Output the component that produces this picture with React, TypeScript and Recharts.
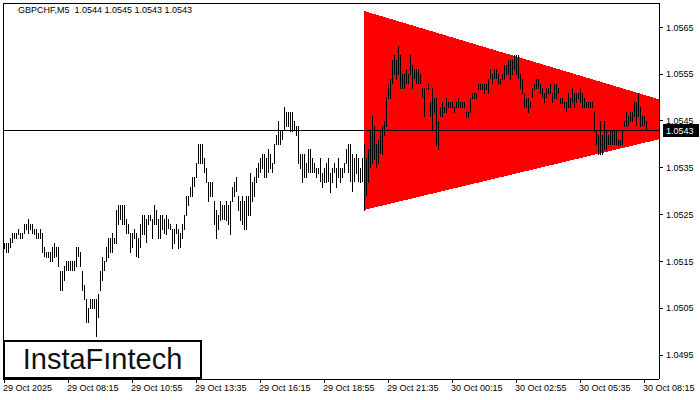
import { ComposedChart, Bar, Area, XAxis, YAxis, CartesianGrid, ReferenceLine } from 'recharts';

const SYMBOL = 'GBPCHF,M5';
const LAST_OHLC = [1.0544, 1.0545, 1.0543, 1.0543];
const CURRENT_PRICE = 1.0543;

// M5 bars, high / low
const HIGH = [
  1.0519, 1.0519, 1.0519, 1.0520, 1.0521, 1.0521, 1.0521, 1.0522, 1.0521, 1.0521,
  1.0523, 1.0523, 1.0524, 1.0523, 1.0523, 1.0522, 1.0522, 1.0521, 1.0522, 1.0521,
  1.0518, 1.0517, 1.0517, 1.0517, 1.0518, 1.0519, 1.0518, 1.0518, 1.0513, 1.0513,
  1.0514, 1.0515, 1.0515, 1.0515, 1.0515, 1.0515, 1.0518, 1.0518, 1.0517, 1.0513,
  1.0510, 1.0507, 1.0505, 1.0507, 1.0507, 1.0507, 1.0507, 1.0508, 1.0513, 1.0516,
  1.0515, 1.0518, 1.0520, 1.0520, 1.0521, 1.0520, 1.0526, 1.0527, 1.0527, 1.0527,
  1.0527, 1.0524, 1.0523, 1.0521, 1.0521, 1.0522, 1.0521, 1.0520, 1.0523, 1.0525,
  1.0525, 1.0524, 1.0525, 1.0525, 1.0524, 1.0527, 1.0526, 1.0524, 1.0525, 1.0525,
  1.0524, 1.0525, 1.0524, 1.0523, 1.0522, 1.0522, 1.0523, 1.0522, 1.0521, 1.0523,
  1.0525, 1.0529, 1.0529, 1.0531, 1.0533, 1.0533, 1.0536, 1.0540, 1.0540, 1.0540,
  1.0537, 1.0535, 1.0532, 1.0532, 1.0532, 1.0528, 1.0526, 1.0525, 1.0528, 1.0527,
  1.0527, 1.0528, 1.0527, 1.0528, 1.0531, 1.0532, 1.0533, 1.0529, 1.0528, 1.0529,
  1.0528, 1.0529, 1.0529, 1.0534, 1.0532, 1.0533, 1.0535, 1.0536, 1.0537, 1.0538,
  1.0538, 1.0537, 1.0539, 1.0538, 1.0536, 1.0540, 1.0542, 1.0545, 1.0543, 1.0543,
  1.0548, 1.0547, 1.0547, 1.0547, 1.0547, 1.0545, 1.0544, 1.0544, 1.0538, 1.0538,
  1.0538, 1.0536, 1.0539, 1.0539, 1.0537, 1.0536, 1.0535, 1.0535, 1.0537, 1.0534,
  1.0535, 1.0536, 1.0537, 1.0534, 1.0535, 1.0536, 1.0535, 1.0537, 1.0535, 1.0535,
  1.0536, 1.0539, 1.0540, 1.0540, 1.0538, 1.0537, 1.0538, 1.0537, 1.0535, 1.0537,
  1.0540, 1.0537, 1.0539, 1.0543, 1.0546, 1.0544, 1.0540, 1.0541, 1.0543, 1.0544,
  1.0545, 1.0550, 1.0553, 1.0554, 1.0558, 1.0559, 1.0558, 1.0561, 1.0559, 1.0555,
  1.0555, 1.0556, 1.0555, 1.0559, 1.0557, 1.0556, 1.0556, 1.0556, 1.0555, 1.0552,
  1.0552, 1.0552, 1.0553, 1.0549, 1.0552, 1.0550, 1.0550, 1.0545, 1.0548, 1.0549,
  1.0548, 1.0550, 1.0549, 1.0549, 1.0549, 1.0548, 1.0549, 1.0550, 1.0549, 1.0549,
  1.0549, 1.0547, 1.0547, 1.0550, 1.0551, 1.0551, 1.0551, 1.0553, 1.0553, 1.0553,
  1.0553, 1.0553, 1.0554, 1.0556, 1.0555, 1.0556, 1.0556, 1.0555, 1.0554, 1.0555,
  1.0557, 1.0557, 1.0558, 1.0558, 1.0558, 1.0559, 1.0559, 1.0559, 1.0555, 1.0554,
  1.0551, 1.0550, 1.0550, 1.0549, 1.0552, 1.0553, 1.0554, 1.0554, 1.0553, 1.0552,
  1.0551, 1.0552, 1.0552, 1.0553, 1.0551, 1.0553, 1.0553, 1.0552, 1.0550, 1.0550,
  1.0549, 1.0549, 1.0551, 1.0550, 1.0552, 1.0551, 1.0551, 1.0551, 1.0552, 1.0551,
  1.0550, 1.0549, 1.0549, 1.0549, 1.0549, 1.0547, 1.0543, 1.0542, 1.0545, 1.0542,
  1.0545, 1.0543, 1.0542, 1.0543, 1.0543, 1.0543, 1.0543, 1.0541, 1.0541, 1.0543,
  1.0545, 1.0547, 1.0546, 1.0547, 1.0547, 1.0549, 1.0549, 1.0551, 1.0548, 1.0546,
  1.0546, 1.0545,
];

const LOW = [
  1.0518, 1.0517, 1.0517, 1.0518, 1.0519, 1.0520, 1.0520, 1.0521, 1.0520, 1.0520,
  1.0521, 1.0522, 1.0521, 1.0522, 1.0521, 1.0521, 1.0520, 1.0520, 1.0520, 1.0517,
  1.0516, 1.0516, 1.0516, 1.0515, 1.0515, 1.0516, 1.0516, 1.0514, 1.0509, 1.0509,
  1.0511, 1.0513, 1.0513, 1.0513, 1.0513, 1.0513, 1.0514, 1.0516, 1.0514, 1.0509,
  1.0507, 1.0502, 1.0502, 1.0505, 1.0505, 1.0505, 1.0499, 1.0503, 1.0509, 1.0511,
  1.0513, 1.0515, 1.0516, 1.0517, 1.0517, 1.0519, 1.0519, 1.0523, 1.0524, 1.0523,
  1.0523, 1.0521, 1.0521, 1.0517, 1.0518, 1.0520, 1.0516, 1.0516, 1.0518, 1.0521,
  1.0521, 1.0519, 1.0523, 1.0524, 1.0520, 1.0523, 1.0523, 1.0520, 1.0520, 1.0522,
  1.0521, 1.0521, 1.0522, 1.0522, 1.0518, 1.0519, 1.0521, 1.0518, 1.0518, 1.0520,
  1.0522, 1.0525, 1.0527, 1.0529, 1.0529, 1.0531, 1.0533, 1.0536, 1.0536, 1.0536,
  1.0534, 1.0532, 1.0528, 1.0529, 1.0529, 1.0523, 1.0520, 1.0522, 1.0524, 1.0524,
  1.0524, 1.0524, 1.0523, 1.0521, 1.0528, 1.0529, 1.0530, 1.0526, 1.0524, 1.0523,
  1.0522, 1.0522, 1.0525, 1.0525, 1.0528, 1.0529, 1.0532, 1.0533, 1.0534, 1.0535,
  1.0533, 1.0533, 1.0534, 1.0535, 1.0534, 1.0536, 1.0540, 1.0540, 1.0540, 1.0541,
  1.0543, 1.0544, 1.0544, 1.0543, 1.0543, 1.0543, 1.0542, 1.0536, 1.0535, 1.0532,
  1.0533, 1.0533, 1.0534, 1.0534, 1.0534, 1.0534, 1.0533, 1.0534, 1.0532, 1.0531,
  1.0532, 1.0532, 1.0532, 1.0530, 1.0532, 1.0534, 1.0531, 1.0533, 1.0532, 1.0533,
  1.0534, 1.0536, 1.0534, 1.0532, 1.0530, 1.0532, 1.0534, 1.0532, 1.0532, 1.0532,
  1.0526, 1.0529, 1.0532, 1.0535, 1.0536, 1.0537, 1.0535, 1.0536, 1.0538, 1.0538,
  1.0542, 1.0544, 1.0550, 1.0550, 1.0553, 1.0555, 1.0554, 1.0555, 1.0552, 1.0552,
  1.0552, 1.0553, 1.0553, 1.0555, 1.0552, 1.0554, 1.0553, 1.0553, 1.0553, 1.0550,
  1.0546, 1.0552, 1.0552, 1.0546, 1.0543, 1.0547, 1.0540, 1.0539, 1.0546, 1.0546,
  1.0547, 1.0547, 1.0548, 1.0548, 1.0548, 1.0547, 1.0548, 1.0548, 1.0548, 1.0548,
  1.0548, 1.0546, 1.0546, 1.0547, 1.0550, 1.0550, 1.0550, 1.0552, 1.0552, 1.0552,
  1.0551, 1.0552, 1.0551, 1.0554, 1.0553, 1.0554, 1.0554, 1.0553, 1.0553, 1.0554,
  1.0554, 1.0555, 1.0555, 1.0554, 1.0555, 1.0556, 1.0555, 1.0554, 1.0552, 1.0551,
  1.0548, 1.0548, 1.0547, 1.0548, 1.0550, 1.0552, 1.0552, 1.0552, 1.0551, 1.0550,
  1.0549, 1.0550, 1.0551, 1.0551, 1.0549, 1.0550, 1.0550, 1.0551, 1.0549, 1.0549,
  1.0548, 1.0547, 1.0548, 1.0548, 1.0549, 1.0548, 1.0549, 1.0550, 1.0549, 1.0548,
  1.0548, 1.0548, 1.0548, 1.0548, 1.0548, 1.0543, 1.0540, 1.0538, 1.0538, 1.0538,
  1.0539, 1.0539, 1.0540, 1.0540, 1.0540, 1.0540, 1.0540, 1.0540, 1.0540, 1.0540,
  1.0544, 1.0544, 1.0544, 1.0545, 1.0545, 1.0546, 1.0544, 1.0546, 1.0544, 1.0544,
  1.0544, 1.0543,
];

// one label every 32 bars
const TIME_LABELS = [
  '29 Oct 2025', '29 Oct 08:15', '29 Oct 10:55', '29 Oct 13:35', '29 Oct 16:15', '29 Oct 18:55',
  '29 Oct 21:35', '30 Oct 00:15', '30 Oct 02:55', '30 Oct 05:35', '30 Oct 08:15',
];
const TICK_STEP = 32;
const SLOTS = 328; // bars plus the empty chart shift on the right

const PRICE_TICKS = [1.0495, 1.0505, 1.0515, 1.0525, 1.0535, 1.0545, 1.0555, 1.0565];
const PRICE_MIN = 1.04899;
const PRICE_MAX = 1.05702;

// symmetrical triangle pattern: left edge (bar index, bottom, top) and apex
const TRI_START = 180;
const TRI_TOP = 1.05685;
const TRI_BOTTOM = 1.0526;
const TRI_APEX = 364.6;
const TRI_APEX_PRICE = 1.05449;

const FONT = '"Liberation Sans", Arial, sans-serif';

const rows = Array.from({ length: SLOTS }, (_, i) => ({
  i,
  range: i < HIGH.length ? [LOW[i], HIGH[i]] : null,
}));

const triangle = [
  { i: TRI_START, band: [TRI_BOTTOM, TRI_TOP] },
  { i: TRI_APEX, band: [TRI_APEX_PRICE, TRI_APEX_PRICE] },
];

function Stick(props: any) {
  const { x, y, width, height } = props;
  if (x == null || y == null || isNaN(y)) return null;
  const left = Math.round(x + width / 2 - 0.5);
  return <rect x={left} y={Math.round(y)} width={1} height={Math.max(1, Math.round(height) + 1)} fill="#000" />;
}

function TimeTick(props: any) {
  const { x, y, payload } = props;
  const label = TIME_LABELS[Math.round(payload.value / TICK_STEP)];
  return (
    <text x={x - 1} y={y} dy="0.71em" textAnchor="start" fontSize={9} fontFamily={FONT} fill="#000">
      {label}
    </text>
  );
}

function PriceTag(props: any) {
  const { viewBox } = props;
  if (!viewBox) return null;
  const x = viewBox.x + viewBox.width + 4;
  const y = viewBox.y;
  return (
    <g>
      <rect x={x} y={y - 6.5} width={36} height={13} fill="#000" />
      <text x={x + 3} y={y} dy="0.355em" fontSize={9} fontFamily={FONT} fill="#fff">
        {CURRENT_PRICE.toFixed(4)}
      </text>
    </g>
  );
}

export default function App() {
  return (
    <div style={{ position: 'relative', width: 700, height: 400, background: '#fff', shapeRendering: 'crispEdges' }}>
      <style>{'body{margin:0}'}</style>
      <ComposedChart
        width={700}
        height={400}
        data={rows}
        margin={{ top: 3, right: 0, bottom: 0, left: 3 }}
        barCategoryGap={0}
      >
        <CartesianGrid
          stroke="#000"
          horizontalCoordinatesGenerator={({ offset }: any) => [offset.top]}
          verticalCoordinatesGenerator={({ offset }: any) => [offset.left]}
        />
        <XAxis
          dataKey="i"
          type="category"
          ticks={TIME_LABELS.map((_, k) => k * TICK_STEP)}
          interval={0}
          height={21}
          tickSize={4}
          tickMargin={2}
          tick={<TimeTick />}
          axisLine={{ stroke: '#000' }}
          tickLine={{ stroke: '#000' }}
        />
        <XAxis xAxisId="t" dataKey="i" type="number" domain={[-0.5, SLOTS - 0.5]} allowDataOverflow hide />
        <YAxis
          orientation="right"
          type="number"
          domain={[PRICE_MIN, PRICE_MAX]}
          allowDataOverflow
          ticks={PRICE_TICKS}
          interval={0}
          width={41}
          tickSize={4}
          tickMargin={3}
          tickFormatter={(v: number) => v.toFixed(4)}
          tick={{ fontSize: 9, fontFamily: FONT, fill: '#000' }}
          axisLine={{ stroke: '#000' }}
          tickLine={{ stroke: '#000' }}
        />
        <Area
          xAxisId="t"
          data={triangle}
          dataKey="band"
          type="linear"
          stroke="none"
          fill="#ff0000"
          fillOpacity={1}
          isAnimationActive={false}
        />
        <Bar dataKey="range" barSize={1} shape={<Stick />} isAnimationActive={false} />
        <ReferenceLine y={CURRENT_PRICE} stroke="#000" strokeWidth={1} label={<PriceTag />} />
      </ComposedChart>
      <div
        style={{
          position: 'absolute', left: 18, top: 6, fontSize: 9, lineHeight: '9px',
          fontFamily: FONT, color: '#000', whiteSpace: 'pre',
        }}
      >
        {`${SYMBOL}  ${LAST_OHLC.map((v) => v.toFixed(4)).join(' ')}`}
      </div>
      <div
        style={{
          position: 'absolute', left: 3, top: 340, width: 195, height: 35, border: '2px solid #000',
          background: '#fff', display: 'flex', alignItems: 'center', justifyContent: 'center',
          fontFamily: FONT, fontSize: 29, color: '#111',
        }}
      >
        InstaFıntech
      </div>
    </div>
  );
}
